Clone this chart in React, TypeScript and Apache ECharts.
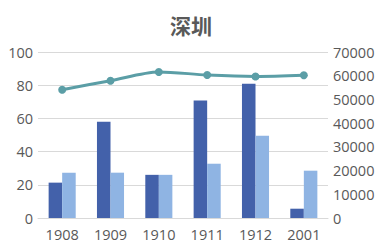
import React, { useEffect, useRef } from "react";
import * as echarts from "echarts";

const categories = ["1908", "1909", "1910", "1911", "1912", "2001"];
const darkBars = [21.3, 58, 26, 70.8, 80.9, 5.6];
const lightBars = [27.3, 27.3, 26, 32.7, 49.6, 28.5];
const lineValues = [54100, 57900, 61600, 60300, 59700, 60200];
const title = "深圳";

export default function App() {
  const ref = useRef<HTMLDivElement>(null);
  useEffect(() => {
    const chart = echarts.init(ref.current!, null, { renderer: "svg" });
    const labelStyle = { color: "#595959", fontSize: 14.5, fontFamily: "Open Sans" };
    chart.setOption({
      animation: false,
      backgroundColor: "#ffffff",
      title: {
        text: title,
        left: "center",
        top: 9,
        textStyle: { color: "#595959", fontSize: 21, fontWeight: "bold", fontFamily: "Noto Sans CJK SC" },
      },
      grid: { left: 38, right: 54, top: 52, bottom: 33 },
      xAxis: {
        type: "category",
        data: categories,
        axisLine: { lineStyle: { color: "#D9D9D9" } },
        axisTick: { show: false },
        axisLabel: { ...labelStyle, margin: 9 },
      },
      yAxis: [
        {
          type: "value",
          min: 0,
          max: 100,
          interval: 20,
          axisLine: { show: false },
          axisTick: { show: false },
          axisLabel: { ...labelStyle, margin: 5 },
          splitLine: { lineStyle: { color: "#D9D9D9" } },
        },
        {
          type: "value",
          min: 0,
          max: 70000,
          interval: 10000,
          axisLine: { show: false },
          axisTick: { show: false },
          axisLabel: { ...labelStyle, margin: 5, formatter: (v: number) => String(v) },
          splitLine: { show: false },
        },
      ],
      series: [
        {
          type: "bar",
          data: darkBars,
          itemStyle: { color: "#4361AA" },
          barGap: "0%",
          barCategoryGap: "44%",
        },
        {
          type: "bar",
          data: lightBars,
          itemStyle: { color: "#8FB4E3" },
        },
        {
          type: "line",
          yAxisIndex: 1,
          data: lineValues,
          smooth: 0.3,
          symbol: "circle",
          symbolSize: 8,
          lineStyle: { color: "#5B9EA6", width: 3 },
          itemStyle: { color: "#5B9EA6" },
        },
      ],
    });
    return () => chart.dispose();
  }, []);
  return <div ref={ref} style={{ width: 382, height: 251, position: "absolute", left: 0, top: 0 }} />;
}
